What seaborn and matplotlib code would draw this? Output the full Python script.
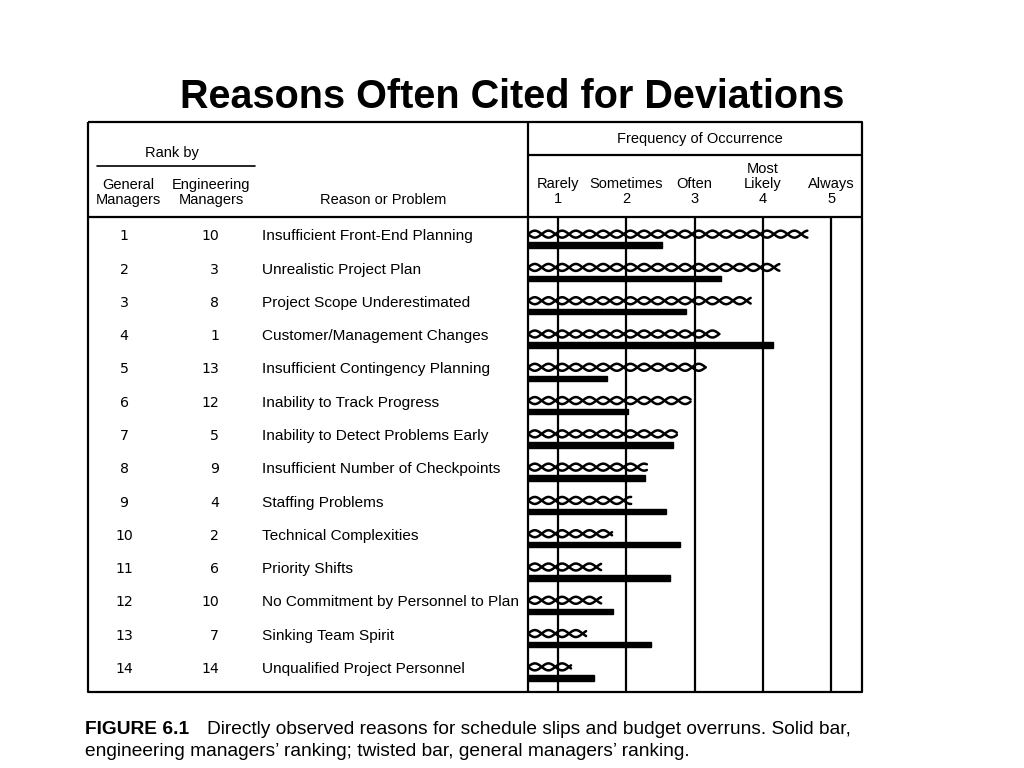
import numpy as np
import pandas as pd
import matplotlib
matplotlib.use("Agg")
import matplotlib.pyplot as plt
import seaborn as sns

# ---------------------------
# Data
# ---------------------------
reasons = [
    "Insufficient Front-End Planning",
    "Unrealistic Project Plan",
    "Project Scope Underestimated",
    "Customer/Management Changes",
    "Insufficient Contingency Planning",
    "Inability to Track Progress",
    "Inability to Detect Problems Early",
    "Insufficient Number of Checkpoints",
    "Staffing Problems",
    "Technical Complexities",
    "Priority Shifts",
    "No Commitment by Personnel to Plan",
    "Sinking Team Spirit",
    "Unqualified Project Personnel",
]
gm_rank = [1, 2, 3, 4, 5, 6, 7, 8, 9, 10, 11, 12, 13, 14]
em_rank = [10, 3, 8, 1, 13, 12, 5, 9, 4, 2, 6, 10, 7, 14]
gm_freq = [4.65, 4.24, 3.82, 3.36, 3.16, 2.94, 2.74, 2.30, 2.07, 1.79, 1.63, 1.63, 1.41, 1.19]
em_freq = [2.52, 3.39, 2.88, 4.14, 1.72, 2.02, 2.69, 2.27, 2.58, 2.78, 2.64, 1.80, 2.36, 1.53]
freq_ticks = [1, 2, 3, 4, 5]
freq_labels = ["Rarely", "Sometimes", "Often", "Most\nLikely", "Always"]

df = pd.DataFrame({
    "reason": reasons * 2,
    "freq": gm_freq + em_freq,
    "group": ["General"] * len(reasons) + ["Engineering"] * len(reasons),
})

sns.set_style("white")
plt.rcParams["font.family"] = ["Liberation Sans", "DejaVu Sans"]
plt.rcParams["text.color"] = "black"
plt.rcParams["xtick.color"] = "black"
tab_font = ["Liberation Sans Narrow", "Liberation Sans", "DejaVu Sans"]
num_font = ["DejaVu Sans"]

W, H = 1024, 768
fig = plt.figure(figsize=(10.24, 7.68), dpi=100)

def fr(x0, y0, x1, y1):
    return [x0 / W, 1 - y1 / H, (x1 - x0) / W, (y1 - y0) / H]

# ---------------------------
# Bar area
# ---------------------------
ax = fig.add_axes(fr(528, 217, 862, 692))
sns.barplot(data=df, y="reason", x="freq", hue="group",
            hue_order=["General", "Engineering"], order=reasons,
            orient="h", width=0.66, errorbar=None, legend=False,
            palette=["white", "black"], ax=ax)
ax.set_xlim(0.56, 5.45)
ax.set_ylim(len(reasons) - 0.41, -0.68)

# solid bars: thin black
for bar in ax.containers[1]:
    c = bar.get_y() + bar.get_height() / 2
    bar.set_height(0.16)
    bar.set_y(c - 0.08)
    bar.set_edgecolor("black")

# twisted bars: rope drawn along each bar
half_link = 0.2
amp = 0.105
for bar in ax.containers[0]:
    c = bar.get_y() + bar.get_height() / 2
    x_end = bar.get_x() + bar.get_width()
    xs = np.linspace(ax.get_xlim()[0], x_end, 600)
    s = np.sin(np.pi * (xs - xs[0]) / half_link)
    ax.plot(xs, c + amp * s, color="black", lw=1.8, solid_capstyle="round")
    ax.plot(xs, c - amp * s, color="black", lw=1.8, solid_capstyle="round")
    bar.set_visible(False)

for t in freq_ticks:
    ax.axvline(t, color="black", lw=1.6)

ax.set_xticks(freq_ticks, labels=[f"{l}\n{t}" for l, t in zip(freq_labels, freq_ticks)])
ax.tick_params(axis="x", top=True, labeltop=True, bottom=False, labelbottom=False,
               length=0, pad=8, colors="black")
for lab in ax.get_xticklabels():
    lab.set_fontfamily(tab_font)
    lab.set_fontsize(10.5)
    lab.set_linespacing(1.1)
ax.set_yticks([])
ax.set_xlabel("")
ax.set_ylabel("")
for sp in ax.spines.values():
    sp.set_visible(False)

# ---------------------------
# Left text columns
# ---------------------------
axl = fig.add_axes(fr(88, 217, 528, 692), sharey=ax)
axl.set_xlim(88, 528)
axl.axis("off")
for i, (g, e, r) in enumerate(zip(gm_rank, em_rank, reasons)):
    y = i - 0.1
    axl.text(124, y, str(g), ha="center", va="center", fontsize=10.2, family=num_font)
    axl.text(219, y, str(e), ha="right", va="center", fontsize=10.2, family=num_font)
    axl.text(262, y, r, ha="left", va="center", fontsize=11.1, family=tab_font)

# ---------------------------
# Table rules and header text (pixel coords)
# ---------------------------
ov = fig.add_axes([0, 0, 1, 1])
ov.set_xlim(0, W)
ov.set_ylim(H, 0)
ov.axis("off")
ov.patch.set_alpha(0)
k = dict(color="black", lw=1.6, solid_capstyle="butt")
ov.plot([88, 862, 862, 88, 88], [122, 122, 692, 692, 122], **k)
ov.plot([88, 862], [217, 217], **k)
ov.plot([528, 528], [122, 692], **k)
ov.plot([528, 862], [155, 155], **k)
ov.plot([97, 255], [166, 166], color="black", lw=1.2)

ov.text(172, 153, "Rank by", ha="center", va="center", fontsize=10.5, family=tab_font)
ov.text(128, 207, "General\nManagers", ha="center", va="bottom", fontsize=10.5,
        family=tab_font, linespacing=1.1)
ov.text(211, 207, "Engineering\nManagers", ha="center", va="bottom", fontsize=10.5,
        family=tab_font, linespacing=1.1)
ov.text(383, 207, "Reason or Problem", ha="center", va="bottom", fontsize=10.5,
        family=tab_font)
ov.text(700, 139, "Frequency of Occurrence", ha="center", va="center", fontsize=10.5,
        family=tab_font)

ov.text(512, 97, "Reasons Often Cited for Deviations", ha="center", va="center",
        fontsize=28.5, fontweight="bold")

ov.text(85, 730, "FIGURE 6.1", ha="left", va="center", fontsize=13.8, fontweight="bold")
ov.text(207, 730, "Directly observed reasons for schedule slips and budget overruns. Solid bar,",
        ha="left", va="center", fontsize=13.8)
ov.text(85, 751, "engineering managers\u2019 ranking; twisted bar, general managers\u2019 ranking.",
        ha="left", va="center", fontsize=13.8)

fig.savefig("out.png", dpi=100)
